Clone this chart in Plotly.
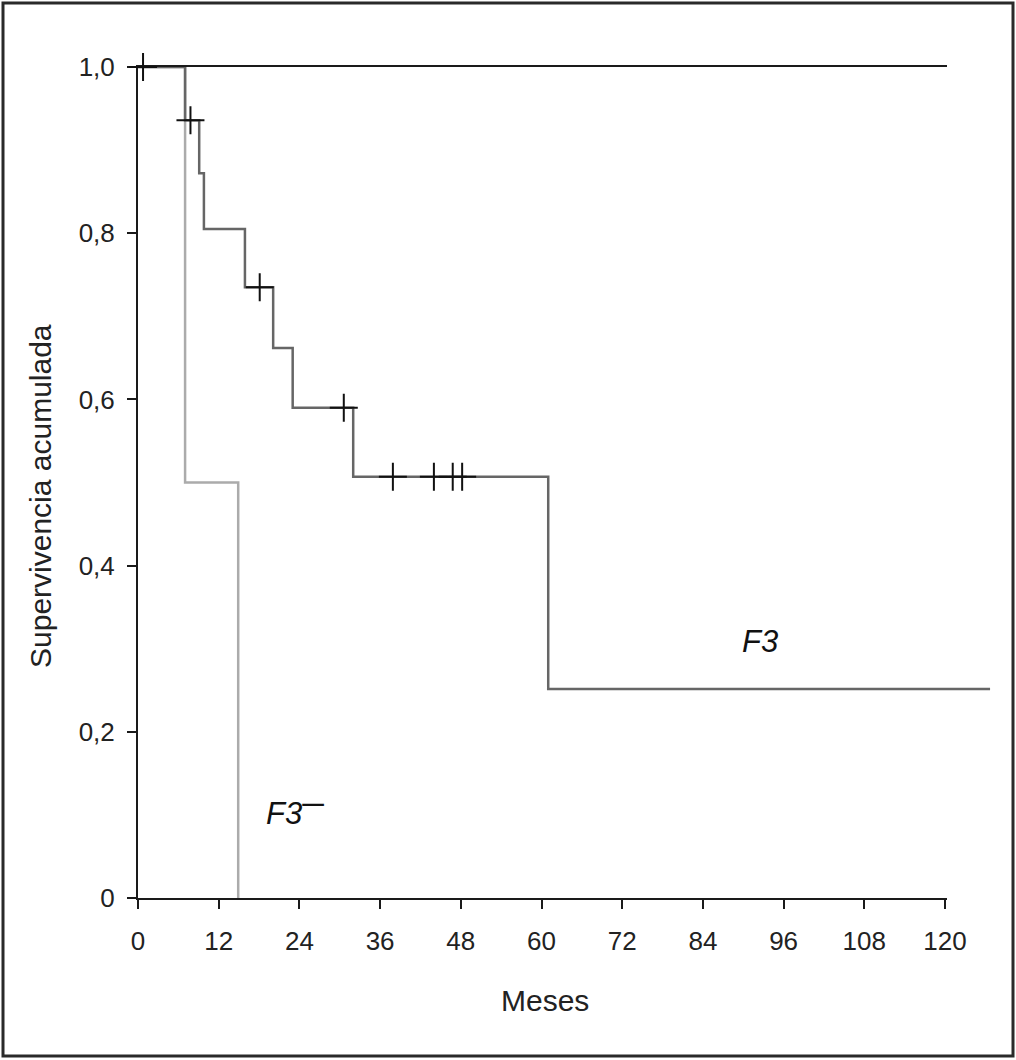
import plotly.graph_objects as go

# Kaplan-Meier step data (months, cumulative survival)
f3_time = [0, 7.0, 9.1, 9.8, 15.9, 20.1, 23.0, 32.0, 61.0, 126.7]
f3_surv = [1.0, 0.936, 0.872, 0.805, 0.735, 0.662, 0.590, 0.507, 0.2515, 0.2515]

f3neg_time = [0, 7.0, 14.9]
f3neg_surv = [1.0, 0.5, 0.0]

cens_time = [0.75, 7.8, 18.1, 30.6, 37.9, 44.0, 46.8, 48.2]
cens_surv = [1.0, 0.936, 0.735, 0.590, 0.507, 0.507, 0.507, 0.507]

x_ticks = [0, 12, 24, 36, 48, 60, 72, 84, 96, 108, 120]
y_ticks = [0, 0.2, 0.4, 0.6, 0.8, 1.0]
y_ticktext = ["0", "0,2", "0,4", "0,6", "0,8", "1,0"]

FONT = "Liberation Sans, Arial, Helvetica, sans-serif"
W, H = 1016, 1060
L, R, T, B = 138, 16, 67, 162
pw = W - L - R
ph = H - T - B
x_end_px = 945  # pixel where x = 120
xdom_end = (x_end_px - L) / pw
x2_max = 120 * pw / (x_end_px - L)

fig = go.Figure()
fig.add_trace(go.Scatter(x=f3neg_time, y=f3neg_surv, mode="lines", line_shape="hv",
                         line=dict(color="#ababab", width=2.5), xaxis="x2", yaxis="y",
                         showlegend=False, hoverinfo="skip"))
fig.add_trace(go.Scatter(x=f3_time, y=f3_surv, mode="lines", line_shape="hv",
                         line=dict(color="#666666", width=2.5), xaxis="x2", yaxis="y",
                         showlegend=False, hoverinfo="skip"))
fig.add_trace(go.Scatter(x=cens_time, y=cens_surv, mode="markers", cliponaxis=False,
                         marker=dict(symbol="cross-thin", size=20,
                                     line=dict(color="#111111", width=2)),
                         xaxis="x2", yaxis="y", showlegend=False, hoverinfo="skip"))

fig.update_layout(
    width=W, height=H, autosize=False,
    margin=dict(l=L, r=R, t=T, b=B, pad=0, autoexpand=False),
    paper_bgcolor="white", plot_bgcolor="white",
    font=dict(family=FONT, size=28, color="#222222"),
    xaxis=dict(domain=[0, xdom_end], range=[0, 120], anchor="y", automargin=False,
               tickvals=x_ticks, ticktext=[str(v) for v in x_ticks],
               ticks="outside", ticklen=9, tickwidth=2, tickcolor="#1a1a1a",
               showline=True, linewidth=2, linecolor="#1a1a1a", mirror=True,
               showgrid=False, zeroline=False, ticklabelstandoff=10,
               tickfont=dict(family=FONT, size=26, color="#222222")),
    xaxis2=dict(domain=[0, 1], range=[0, x2_max], anchor="y", visible=False,
                automargin=False, showgrid=False, zeroline=False),
    yaxis=dict(domain=[0, 1], range=[0, 1], anchor="x", automargin=False,
               tickvals=y_ticks, ticktext=y_ticktext,
               ticks="outside", ticklen=9, tickwidth=2, tickcolor="#1a1a1a",
               showline=True, linewidth=2, linecolor="#1a1a1a", mirror=True,
               showgrid=False, zeroline=False, ticklabelstandoff=7,
               tickfont=dict(family=FONT, size=26, color="#222222")),
)

# outer frame
fig.add_shape(type="rect", xref="paper", yref="paper",
              x0=(3 - L) / pw, x1=(1013 - L) / pw,
              y0=(H - B - 1056) / ph, y1=(H - B - 3) / ph,
              line=dict(color="#2a2a2a", width=3), layer="below")

# axis titles
fig.add_annotation(text="Meses", xref="paper", yref="paper",
                   x=(545 - L) / pw, y=(H - B - 1000) / ph, showarrow=False,
                   font=dict(family=FONT, size=30, color="#222222"),
                   xanchor="center", yanchor="middle")
fig.add_annotation(text="Supervivencia acumulada", xref="paper", yref="paper",
                   x=(40 - L) / pw, y=(H - B - 496) / ph, showarrow=False,
                   textangle=-90,
                   font=dict(family=FONT, size=30, color="#222222"),
                   xanchor="center", yanchor="middle")

# curve labels
fig.add_annotation(text="<i>F3</i>", xref="x", yref="y", x=92.5, y=0.309,
                   showarrow=False, font=dict(family=FONT, size=31, color="#111111"))
fig.add_annotation(text="<i>F3</i><sup><b>—</b></sup>", xref="x", yref="y", x=23.4, y=0.105,
                   showarrow=False, font=dict(family=FONT, size=31, color="#111111"))

post = ("document.documentElement.style.margin='0';"
        "document.body.style.margin='0';document.body.style.padding='0';"
        "document.body.style.overflow='hidden';"
        "var gd=document.getElementById('{plot_id}');"
        "Plotly.relayout(gd,{width:1016,height:1060});")

fig.write_html("out.html", post_script=post, config={"displayModeBar": False})
